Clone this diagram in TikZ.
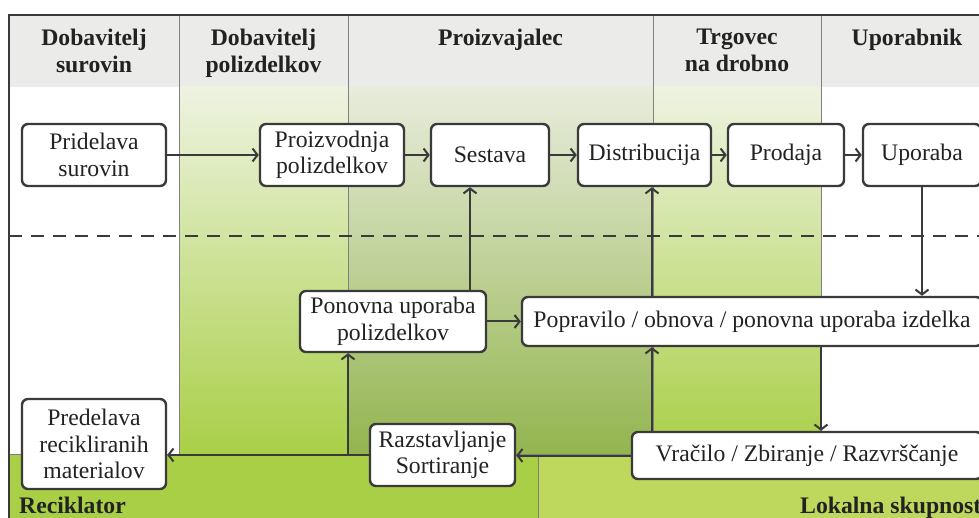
\documentclass[tikz,border=0pt]{standalone}
\usepackage{fontspec}
\setmainfont{Liberation Serif}
\usetikzlibrary{arrows.meta}
\definecolor{linec}{HTML}{3A3A3A}
\definecolor{txtc}{HTML}{222222}
\definecolor{headg}{HTML}{EBEBEA}
\definecolor{gtop}{HTML}{EEF3E1}
\definecolor{gbot}{HTML}{A9CF47}
\definecolor{ptop}{HTML}{E8ECDC}
\definecolor{pmid}{HTML}{C7D6A3}
\definecolor{pbot}{HTML}{93B54F}
\definecolor{recg}{HTML}{A9CF47}
\definecolor{lokg}{HTML}{BDD85C}
\definecolor{sepc}{HTML}{808080}
\begin{document}
\begin{tikzpicture}[x=1pt,y=-1pt,
  box/.style={draw=linec, line width=2.4pt, rounded corners=6pt, fill=white, align=center, inner sep=0pt, text=txtc, font=\fontsize{23.7}{26.5}\selectfont},
  head/.style={anchor=north, align=center, inner sep=0pt, text=txtc, font=\fontsize{23.7}{27}\selectfont\bfseries},
  bandlbl/.style={anchor=base west, inner sep=0pt, text=txtc, font=\fontsize{23.7}{27}\selectfont\bfseries},
  arr/.style={draw=linec, line width=2pt, -{Straight Barb[length=5pt,width=13pt]}},
  sepline/.style={draw=sepc, line width=0.8pt}]
\useasboundingbox (0,0) rectangle (979,518);
\clip (0,0) rectangle (979,518);
% backgrounds
\fill[white] (0,0) rectangle (979,518);
\fill[headg] (9,15) rectangle (990,87);
\shade[top color=gtop, bottom color=gbot] (179,87) rectangle (348,454);
\shade[top color=ptop, middle color=pmid, bottom color=pbot] (348,87) rectangle (653,454);
\shade[top color=gtop, bottom color=gbot] (653,87) rectangle (821,454);
\fill[recg] (9,454) rectangle (538,530);
\fill[lokg] (538,454) rectangle (990,530);
% separators
\draw[sepline] (179,15) -- (179,454);
\draw[sepline] (348,15) -- (348,454);
\draw[sepline] (653,15) -- (653,454);
\draw[sepline] (821,15) -- (821,454);
\draw[sepline] (9,454) -- (990,454);
\draw[sepline] (538,454) -- (538,530);
% frame
\draw[linec, line width=2.5pt] (9,530) -- (9,15) -- (990,15);
% dashed line
\draw[linec, line width=2pt, dash pattern=on 13pt off 9pt] (9,236) -- (990,236);
% headers
\node[head] (h1) at (94,29) {Dobavitelj\\surovin};
\node[head] (h2) at (263.5,29) {Dobavitelj\\polizdelkov};
\node[head] (h3) at (500.5,29) {Proizvajalec};
\node[head] (h4) at (737,29) {Trgovec\\na drobno};
\node[head] (h5) at (907,29) {Uporabnik};
\node[bandlbl] (rec) at (19,513) {Reciklator};
\node[bandlbl] (lok) at (800,513) {Lokalna skupnost};
% nodes
\node[box, minimum width=144pt, minimum height=62pt] (pridelava) at (94,155) {Pridelava\\surovin};
\node[box, minimum width=144pt, minimum height=62pt] (proizvodnja) at (332,155) {Proizvodnja\\polizdelkov};
\node[box, minimum width=118pt, minimum height=62pt] (sestava) at (490,155) {Sestava};
\node[box, minimum width=133pt, minimum height=62pt] (distribucija) at (644.5,155) {Distribucija};
\node[box, minimum width=116pt, minimum height=62pt] (prodaja) at (786,155) {Prodaja};
\node[box, minimum width=118pt, minimum height=62pt] (uporaba) at (922,155) {Uporaba};
\node[box, minimum width=186pt, minimum height=61pt] (ponovna) at (393,321.5) {Ponovna uporaba\\polizdelkov};
\node[box, minimum width=460pt, minimum height=49pt] (popravilo) at (752,321.5) {Popravilo / obnova / ponovna uporaba izdelka};
\node[box, minimum width=144pt, minimum height=90pt] (predelava) at (94,444) {Predelava\\recikliranih\\materialov};
\node[box, minimum width=145pt, minimum height=62pt] (razstavljanje) at (442.5,455) {Razstavljanje\\Sortiranje};
\node[box, minimum width=350pt, minimum height=47pt] (vracilo) at (807,455.5) {Vračilo / Zbiranje / Razvrščanje};
% helper x positions
\coordinate (xs) at (470,0);
\coordinate (xd) at (652,0);
\coordinate (xv) at (821,0);
\coordinate (xj) at (348,0);
% connectors
\draw[arr] (pridelava) -- (proizvodnja);
\draw[arr] (proizvodnja) -- (sestava);
\draw[arr] (sestava) -- (distribucija);
\draw[arr] (distribucija) -- (prodaja);
\draw[arr] (prodaja) -- (uporaba);
\draw[arr] (uporaba.south) -- (uporaba.south |- popravilo.north);
\draw[arr] (ponovna.north -| xs) -- (sestava.south -| xs);
\draw[arr] (popravilo.north -| xd) -- (distribucija.south -| xd);
\draw[arr] (ponovna.east) -- (popravilo.west);
\draw[arr] (popravilo.south -| xv) -- (vracilo.north -| xv);
\draw[arr] (vracilo.north -| xd) -- (popravilo.south -| xd);
\draw[arr] (vracilo.west) -- (razstavljanje.east |- vracilo.west);
\draw[arr] (razstavljanje.west) -- (predelava.east |- razstavljanje.west);
\coordinate (junc) at (xj |- razstavljanje.west);
\draw[arr] (junc) -- (ponovna.south -| junc);
\end{tikzpicture}
\end{document}
